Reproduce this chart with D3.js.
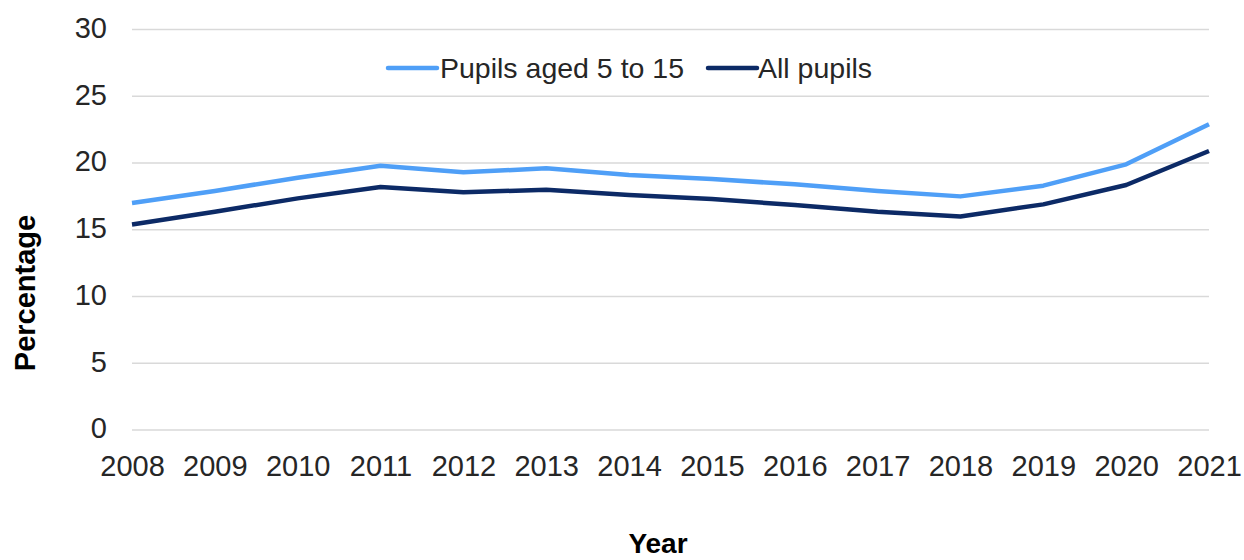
<!DOCTYPE html>
<html>
<head>
<meta charset="utf-8">
<script src="https://cdn.jsdelivr.net/npm/d3@7"></script>
<style>
  html, body { margin: 0; padding: 0; background: #fff; }
  svg { display: block; font-family: "Liberation Sans", Arial, sans-serif; }
</style>
</head>
<body>
<svg id="chart" width="1244" height="560"></svg>
<script>
const years = [2008, 2009, 2010, 2011, 2012, 2013, 2014, 2015, 2016, 2017, 2018, 2019, 2020, 2021];
const pupils5to15 = [17.0, 17.9, 18.9, 19.8, 19.3, 19.6, 19.1, 18.8, 18.4, 17.9, 17.5, 18.3, 19.9, 22.9];
const allPupils = [15.4, 16.35, 17.35, 18.2, 17.8, 18.0, 17.6, 17.3, 16.85, 16.35, 16.0, 16.9, 18.35, 20.9];
const yTicks = [0, 5, 10, 15, 20, 25, 30];
const seriesNames = ["Pupils aged 5 to 15", "All pupils"];
const seriesColors = ["#4f9ff7", "#0c2a66"];

(function () {
const svg = d3.select("#chart");
const pLeft = 132, pRight = 1209, pTop = 29.5, pBottom = 430;
const x = d3.scalePoint().domain(years).range([pLeft, pRight]);
const y = d3.scaleLinear().domain([0, 30]).range([pBottom, pTop]);

// gridlines
svg.append("g").selectAll("line").data(yTicks).join("line")
  .attr("x1", pLeft).attr("x2", pRight)
  .attr("y1", d => y(d)).attr("y2", d => y(d))
  .attr("stroke", "#d9d9d9").attr("stroke-width", 1.5);

// y axis labels
const yAxis = svg.append("g").attr("transform", `translate(${pLeft - 25},0)`)
  .call(d3.axisLeft(y).tickValues(yTicks).tickSize(0).tickPadding(0));
yAxis.select(".domain").remove();
yAxis.selectAll("text").attr("font-size", 29).attr("fill", "#262626")
  .attr("font-family", "Liberation Sans, Arial, sans-serif").attr("dy", "0.27em");

// x axis labels
const xAxis = svg.append("g").attr("transform", `translate(0,${pBottom})`)
  .call(d3.axisBottom(x).tickSize(0).tickPadding(0).tickFormat(d3.format("d")));
xAxis.select(".domain").remove();
xAxis.selectAll("text").attr("font-size", 29).attr("fill", "#262626")
  .attr("font-family", "Liberation Sans, Arial, sans-serif").attr("y", 46).attr("dy", 0);

// lines
const line = d3.line().x((d, i) => x(years[i])).y(d => y(d));
[pupils5to15, allPupils].forEach((s, k) => {
  svg.append("path").datum(s)
    .attr("d", line)
    .attr("fill", "none")
    .attr("stroke", seriesColors[k])
    .attr("stroke-width", 4.5)
    .attr("stroke-linejoin", "round");
});

// legend
const legendItems = [
  { name: seriesNames[0], color: seriesColors[0], x1: 388, x2: 437, tx: 440 },
  { name: seriesNames[1], color: seriesColors[1], x1: 708, x2: 757, tx: 758 }
];
const lg = svg.append("g");
legendItems.forEach(it => {
  lg.append("line").attr("x1", it.x1).attr("x2", it.x2).attr("y1", 68).attr("y2", 68)
    .attr("stroke", it.color).attr("stroke-width", 4.5).attr("stroke-linecap", "round");
  lg.append("text").attr("x", it.tx).attr("y", 78).attr("font-size", 28.5)
    .attr("fill", "#262626").text(it.name);
});

// axis titles
svg.append("text")
  .attr("transform", "translate(35,293) rotate(-90)")
  .attr("text-anchor", "middle").attr("font-size", 29).attr("font-weight", "bold")
  .attr("fill", "#000").text("Percentage");
svg.append("text")
  .attr("x", 658).attr("y", 553)
  .attr("text-anchor", "middle").attr("font-size", 28).attr("font-weight", "bold")
  .attr("fill", "#000").text("Year");
})();
</script>
</body>
</html>
